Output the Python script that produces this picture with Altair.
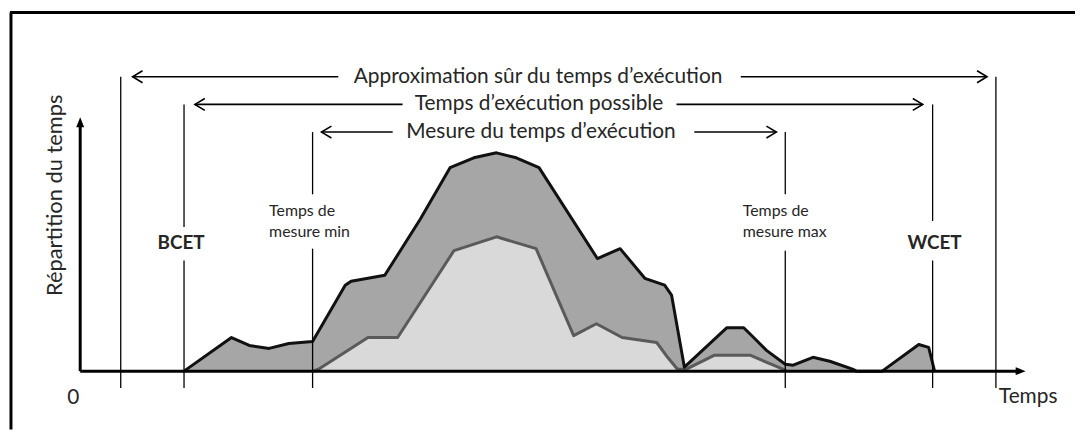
import altair as alt
import pandas as pd

# ---- data (time units along x, distribution units along y; axis origin = 0) ----
# Outer distribution: all possible execution times (dark grey)
outer_t = [105, 153, 171, 191, 211, 235, 268, 274, 308, 344, 374, 398, 421, 441, 464,
           523, 546, 571, 591, 598, 611, 654, 671, 681, 694, 713, 721, 741, 758, 781,
           785, 811, 848, 858, 864]
outer_v = [0, 34, 26, 23, 28, 30, 87, 91, 97, 154, 206, 216, 221, 216, 206,
           114, 124, 94, 87, 77, 4, 44, 44, 34, 21, 7, 6, 14, 10, 2,
           0, 0, 27, 24, 0]

# Inner distribution: measured execution times (light grey)
inner_t = [235, 241, 291, 321, 378, 421, 461, 499, 522, 548, 583, 594, 604, 613,
           641, 678, 701, 713, 714]
inner_v = [0, 2, 34, 34, 122, 136, 124, 36, 48, 34, 29, 14, 2, 2,
           16, 16, 6, 1, 0]

# Vertical markers (time position, top, bottom of each segment)
marker_t = [41, 105, 105, 235, 235, 713, 713, 862, 862, 926]
marker_top = [298, 270, 112, 242, 124, 242, 122, 270, 112, 298]
marker_bot = [-17, 146, -17, 179, -17, 179, -17, 152, -17, -17]

# Double arrows (level, left tip, left end, right start, right tip, label, label centre)
arrow_v = [298, 270, 242]
arrow_tip_left = [53, 116, 244]
arrow_end_left = [261, 326, 316]
arrow_start_right = [668, 603, 621]
arrow_tip_right = [917, 852, 704]
arrow_labels = ["Approximation sûr du temps d’exécution",
                "Temps d’exécution possible",
                "Mesure du temps d’exécution"]
arrow_label_t = [463, 464, 466]

# Bold markers
bold_labels = ["BCET", "WCET"]
bold_t = [102, 864]
bold_v = [130, 130]

# Small two-line labels
small_labels = ["Temps de", "mesure min", "Temps de", "mesure max"]
small_t = [191, 191, 670, 670]
small_v = [162, 141, 162, 141]

# Axis items
axis_x_end = 951
axis_y_end = 252
origin_label = "0"
origin_t, origin_v = -7, -27
x_title = "Temps"
x_title_t, x_title_v = 929, -26
y_title = "Répartition du temps"
y_title_t, y_title_v = -25, 178

# Frame
frame_left_t = -70
frame_top_v = 363

X_DOMAIN = [-71, 1006]
Y_DOMAIN = [-59, 366]

FONT = "Lato"
TEXT = "#262626"

xs = alt.Scale(domain=X_DOMAIN, nice=False, zero=False)
ys = alt.Scale(domain=Y_DOMAIN, nice=False, zero=False)


def X(f):
    return alt.X(f, type="quantitative", scale=xs, axis=None)


def Y(f):
    return alt.Y(f, type="quantitative", scale=ys, axis=None)


outer_df = pd.DataFrame({"t": outer_t, "v": outer_v})
inner_df = pd.DataFrame({"t": inner_t, "v": inner_v})

outer_area = alt.Chart(outer_df).mark_area(color="#a6a6a6", opacity=1).encode(x=X("t"), y=Y("v"))
inner_area = alt.Chart(inner_df).mark_area(color="#d9d9d9", opacity=1).encode(x=X("t"), y=Y("v"))
inner_line = alt.Chart(inner_df).mark_line(color="#5a5a5a", strokeWidth=3, strokeJoin="round").encode(x=X("t"), y=Y("v"))
outer_line = alt.Chart(outer_df).mark_line(color="#111111", strokeWidth=3, strokeJoin="round").encode(x=X("t"), y=Y("v"))

markers_df = pd.DataFrame({"t": marker_t, "top": marker_top, "bot": marker_bot})
markers = alt.Chart(markers_df).mark_rule(color="black", strokeWidth=1.3).encode(
    x=X("t"), y=Y("top"), y2="bot")

seg_rows = []
for i in range(3):
    seg_rows.append({"a": arrow_tip_left[i], "b": arrow_end_left[i], "v": arrow_v[i]})
    seg_rows.append({"a": arrow_start_right[i], "b": arrow_tip_right[i], "v": arrow_v[i]})
segs = alt.Chart(pd.DataFrame(seg_rows)).mark_rule(color="black", strokeWidth=1.6).encode(
    x=X("a"), x2="b", y=Y("v"))

left_heads = alt.Chart(pd.DataFrame({"t": arrow_tip_left, "v": arrow_v})).mark_point(
    shape="M 1 -0.6 L 0 0 L 1 0.6", size=400, filled=False, color="black",
    strokeWidth=1.6, opacity=1).encode(x=X("t"), y=Y("v"))
right_heads = alt.Chart(pd.DataFrame({"t": arrow_tip_right, "v": arrow_v})).mark_point(
    shape="M -1 -0.6 L 0 0 L -1 0.6", size=400, filled=False, color="black",
    strokeWidth=1.6, opacity=1).encode(x=X("t"), y=Y("v"))

arrow_text = alt.Chart(pd.DataFrame({"t": arrow_label_t, "v": arrow_v, "label": arrow_labels})).mark_text(
    font=FONT, fontSize=21, color=TEXT, align="center", baseline="middle").encode(
    x=X("t"), y=Y("v"), text="label:N")

bold_text = alt.Chart(pd.DataFrame({"t": bold_t, "v": bold_v, "label": bold_labels})).mark_text(
    font=FONT, fontSize=19, fontWeight="bold", color=TEXT, align="center", baseline="middle").encode(
    x=X("t"), y=Y("v"), text="label:N")

small_text = alt.Chart(pd.DataFrame({"t": small_t, "v": small_v, "label": small_labels})).mark_text(
    font=FONT, fontSize=16, color=TEXT, align="left", baseline="middle").encode(
    x=X("t"), y=Y("v"), text="label:N")

# axes
axes_df = pd.DataFrame({"t": [0, 0], "t2": [axis_x_end, 0], "v": [0, 0], "v2": [0, axis_y_end]})
axes = alt.Chart(axes_df).mark_rule(color="black", strokeWidth=3).encode(
    x=X("t"), x2="t2", y=Y("v"), y2="v2")
x_head = alt.Chart(pd.DataFrame({"t": [axis_x_end], "v": [0]})).mark_point(
    shape="M 1 0 L -1 -0.8 L -1 0.8 Z", size=100, filled=True, color="black", opacity=1).encode(
    x=X("t"), y=Y("v"))
y_head = alt.Chart(pd.DataFrame({"t": [0], "v": [axis_y_end]})).mark_point(
    shape="M 0 -1 L -0.8 1 L 0.8 1 Z", size=100, filled=True, color="black", opacity=1).encode(
    x=X("t"), y=Y("v"))

origin_text = alt.Chart(pd.DataFrame({"t": [origin_t], "v": [origin_v], "label": [origin_label]})).mark_text(
    font=FONT, fontSize=21, color=TEXT, align="center", baseline="middle").encode(
    x=X("t"), y=Y("v"), text="label:N")
x_title_text = alt.Chart(pd.DataFrame({"t": [x_title_t], "v": [x_title_v], "label": [x_title]})).mark_text(
    font=FONT, fontSize=21, color=TEXT, align="left", baseline="middle").encode(
    x=X("t"), y=Y("v"), text="label:N")
y_title_text = alt.Chart(pd.DataFrame({"t": [y_title_t], "v": [y_title_v], "label": [y_title]})).mark_text(
    font=FONT, fontSize=22, color=TEXT, align="center", baseline="middle", angle=270).encode(
    x=X("t"), y=Y("v"), text="label:N")

# frame
frame_df = pd.DataFrame({"t": [frame_left_t, X_DOMAIN[0]], "t2": [frame_left_t, X_DOMAIN[1]],
                         "v": [Y_DOMAIN[0], frame_top_v], "v2": [frame_top_v, frame_top_v]})
frame = alt.Chart(frame_df).mark_rule(color="black", strokeWidth=3).encode(
    x=X("t"), x2="t2", y=Y("v"), y2="v2")

chart = alt.layer(
    frame, outer_area, inner_area, inner_line, outer_line, markers, axes, x_head, y_head,
    segs, left_heads, right_heads, arrow_text, bold_text, small_text,
    origin_text, x_title_text, y_title_text
).properties(
    width=1077, height=425,
    autosize=alt.AutoSizeParams(type="fit", contains="padding"),
    padding=0,
    background="white",
).configure_view(stroke=None)

chart.save("out.html", embed_options={"renderer": "svg", "actions": False})
